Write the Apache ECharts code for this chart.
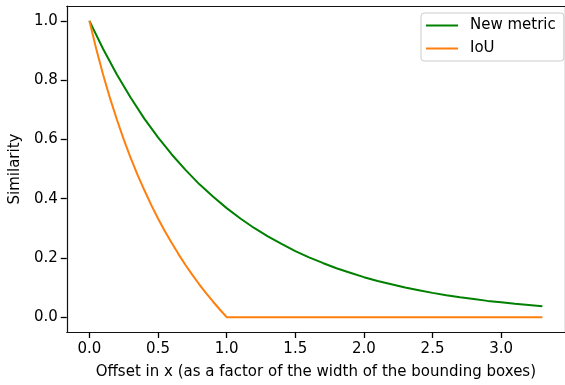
<!DOCTYPE html>
<html>
<head>
<meta charset="utf-8">
<script src="https://cdn.jsdelivr.net/npm/echarts@6/dist/echarts.min.js"></script>
<style>
html, body { margin: 0; padding: 0; background: #fff; }
#chart { width: 565px; height: 385px; }
</style>
</head>
<body>
<div id="chart"></div>
<script>
var greenX = [0, 0.1, 0.2, 0.3, 0.4, 0.5, 0.6, 0.7, 0.8, 0.9, 1.0, 1.1, 1.2, 1.3, 1.4, 1.5, 1.6,
    1.7, 1.8, 1.9, 2.0, 2.1, 2.2, 2.3, 2.4, 2.5, 2.6, 2.7, 2.8, 2.9, 3.0, 3.1, 3.2, 3.3];
var newMetric = [1.000, 0.905, 0.819, 0.741, 0.670, 0.607, 0.549, 0.497, 0.449, 0.407, 0.368,
    0.333, 0.301, 0.273, 0.247, 0.223, 0.202, 0.183, 0.165, 0.150, 0.135, 0.122, 0.111, 0.100,
    0.091, 0.082, 0.074, 0.067, 0.061, 0.055, 0.050, 0.045, 0.041, 0.037];
var iouX = [0, 0.05, 0.1, 0.15, 0.2, 0.25, 0.3, 0.35, 0.4, 0.45, 0.5, 0.55, 0.6, 0.65, 0.7,
    0.75, 0.8, 0.85, 0.9, 0.95, 1.0, 3.3];
var iou = [1.000, 0.905, 0.818, 0.739, 0.667, 0.600, 0.538, 0.481, 0.429, 0.379, 0.333, 0.290,
    0.250, 0.212, 0.176, 0.143, 0.111, 0.081, 0.053, 0.026, 0.000, 0.000];
var xTicks = [0, 0.5, 1.0, 1.5, 2.0, 2.5, 3.0];
var yTicks = [0, 0.2, 0.4, 0.6, 0.8, 1.0];

var font = 'DejaVu Sans';
var fs = 15;
var spine = { color: '#111', width: 1.2 };
var tick = { color: '#000', width: 1.3 };

function pairs(xs, ys) {
    return xs.map(function (x, i) { return [x, ys[i]]; });
}

// top and right spines: bare axes, no ticks or labels
function bareAxis(pos, min, max) {
    return {
        type: 'value', position: pos, min: min, max: max,
        splitLine: { show: false },
        axisLine: { show: true, onZero: false, lineStyle: spine },
        axisTick: { show: false },
        axisLabel: { show: false }
    };
}

var chart = echarts.init(document.getElementById('chart'));
chart.setOption({
    animation: false,
    backgroundColor: '#fff',
    textStyle: { fontFamily: font },
    grid: { left: 64, top: 6, width: 506, height: 327 },
    legend: {
        orient: 'vertical',
        left: 421, top: 13,
        padding: [5, 8, 5, 5],
        itemWidth: 32, itemHeight: 2, itemGap: 8,
        icon: 'rect',
        backgroundColor: 'rgba(255,255,255,0.8)',
        borderColor: '#cccccc', borderWidth: 1, borderRadius: 3,
        textStyle: { fontFamily: font, fontSize: fs, color: '#000', padding: [0, 0, 0, 7] },
        data: ['New metric', 'IoU']
    },
    xAxis: [{
        type: 'value',
        position: 'bottom',
        min: -0.165, max: 3.465,
        name: 'Offset in x (as a factor of the width of the bounding boxes)',
        nameLocation: 'middle', nameGap: 33,
        nameTextStyle: { fontFamily: font, fontSize: fs, color: '#000' },
        splitLine: { show: false },
        axisLine: { show: true, onZero: false, lineStyle: spine },
        axisTick: { show: true, length: 6, customValues: xTicks, lineStyle: tick },
        axisLabel: {
            customValues: xTicks, margin: 10,
            fontFamily: font, fontSize: fs, color: '#000',
            formatter: function (v) { return v.toFixed(1); }
        }
    }, bareAxis('top', -0.165, 3.465)],
    yAxis: [{
        type: 'value',
        position: 'left',
        min: -0.05, max: 1.05,
        name: 'Similarity',
        nameLocation: 'middle', nameGap: 34,
        nameTextStyle: { fontFamily: font, fontSize: fs, color: '#000' },
        splitLine: { show: false },
        axisLine: { show: true, onZero: false, lineStyle: spine },
        axisTick: { show: true, length: 6, customValues: yTicks, lineStyle: tick },
        axisLabel: {
            customValues: yTicks, margin: 9,
            fontFamily: font, fontSize: fs, color: '#000',
            formatter: function (v) { return v.toFixed(1); }
        }
    }, bareAxis('right', -0.05, 1.05)],
    series: [
        {
            name: 'New metric', type: 'line', showSymbol: false,
            color: '#008000',
            lineStyle: { width: 2, color: '#008000' },
            data: pairs(greenX, newMetric)
        },
        {
            name: 'IoU', type: 'line', showSymbol: false,
            color: '#ff7f0e',
            lineStyle: { width: 2, color: '#ff7f0e' },
            data: pairs(iouX, iou)
        }
    ]
});
</script>
</body>
</html>
